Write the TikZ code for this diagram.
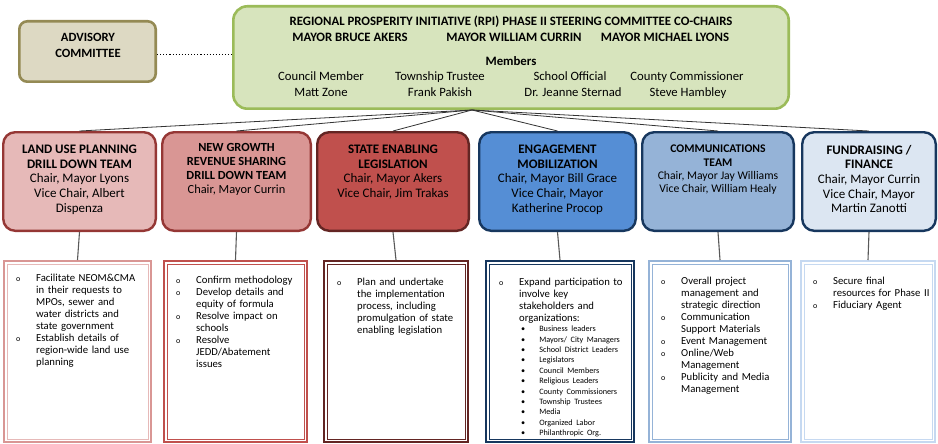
\documentclass[tikz,border=0pt]{standalone}
\usepackage{fontspec}
\setmainfont{Carlito}
\usepackage{enumitem}
\usetikzlibrary{arrows}

\definecolor{advfill}{HTML}{DDD9C3}
\definecolor{advline}{HTML}{948A54}
\definecolor{steerfill}{HTML}{D7E4BD}
\definecolor{steerline}{HTML}{9BBB59}
\definecolor{redA}{HTML}{E6B9B8}
\definecolor{redB}{HTML}{D99694}
\definecolor{redC}{HTML}{C0504D}
\definecolor{redD}{HTML}{953735}
\definecolor{redE}{HTML}{632523}
\definecolor{blueA}{HTML}{558ED5}
\definecolor{blueB}{HTML}{95B3D7}
\definecolor{blueC}{HTML}{DCE6F2}
\definecolor{blueD}{HTML}{17375E}
\definecolor{blueE}{HTML}{C6D9F1}

\setlist[itemize,1]{label={\fontsize{8}{8}\selectfont o},leftmargin=33pt,labelwidth=6pt,labelsep=14pt,align=left,nosep}
\setlist[itemize,2]{label=\textbullet,leftmargin=20pt,labelwidth=4pt,labelsep=14pt,align=left,nosep}

\begin{document}
\begin{tikzpicture}[x=1pt,y=-1pt]
	\tikzset{
	%Define style for the team boxes
	teambox/.style={
		rectangle,
		rounded corners=12pt,
		line width=2.4pt,
		minimum height=98.6pt,
		inner sep=0pt},
	teamtext/.style={
		anchor=north,
		align=center,
		inner sep=0pt,
		font=\fontsize{13}{14.6}\selectfont},
	%Define style for the task lists
	taskbox/.style={
		rectangle,
		line width=2.4pt,
		minimum height=180.6pt,
		inner sep=0pt},
	tasktext/.style={
		anchor=north west,
		inner sep=0pt,
		font=\fontsize{10.7}{12}\selectfont,
		align=left},
	% Define connector style
	link/.style={
		draw=black!80,
		line width=0.8pt}
}
\tikzstyle{member} = [anchor=base, inner sep=0pt, font=\fontsize{12.7}{14}\selectfont]

	\useasboundingbox (0,0) rectangle (938,444);

	%committees on top
	\node[rectangle, rounded corners=8pt, draw=advline, fill=advfill, line width=2.6pt, minimum width=136.4pt, minimum height=60.4pt] at (87.5,51.5) (adv) {};
	\node[anchor=center, align=center, inner sep=0pt, font=\fontsize{12.6}{16}\selectfont\bfseries] at (88,45) (advtxt) {ADVISORY\\COMMITTEE};
	\node[rectangle, rounded corners=14pt, draw=steerline, fill=steerfill, line width=2.6pt, minimum width=555.4pt, minimum height=102.4pt] at (511,57.5) (steer) {};

	\begin{scope}[every node/.style={member}]
	\node[font=\fontsize{12.8}{14}\selectfont\bfseries] at (511,26) (rpi) {REGIONAL PROSPERITY INITIATIVE (RPI) PHASE II STEERING COMMITTEE CO-CHAIRS};
	\node[font=\fontsize{12.8}{14}\selectfont\bfseries] at (350,42) (akers) {MAYOR BRUCE AKERS};
	\node[font=\fontsize{12.8}{14}\selectfont\bfseries] at (514,42) (currin) {MAYOR WILLIAM CURRIN};
	\node[font=\fontsize{12.8}{14}\selectfont\bfseries] at (665,42) (lyons) {MAYOR MICHAEL LYONS};
	\node[font=\fontsize{12.8}{14}\selectfont\bfseries] at (511,66) (members) {Members};
	%member columns
	\node at (321,81) (council) {Council Member};
	\node at (321,96) (zone) {Matt Zone};
	\node at (440,81) (township) {Township Trustee};
	\node at (440,96) (pakish) {Frank Pakish};
	\node at (570,81) (school) {School Official};
	\node at (573,96) (sternad) {Dr. Jeanne Sternad};
	\node at (687,81) (county) {County Commissioner};
	\node at (688,96) (hambley) {Steve Hambley};
	\end{scope}

	\draw[dotted, line width=1.1pt] ([yshift=-3pt]adv.east) -- ([yshift=-3pt]adv.east -| steer.west);

	%team boxes
	\node[teambox, draw=redD, fill=redA, minimum width=152.6pt] at (79.5,181.5) (t1) {};
	\node[teambox, draw=redD, fill=redB, minimum width=148.6pt] at (236.5,181.5) (t2) {};
	\node[teambox, draw=redE, fill=redC, minimum width=151.6pt] at (393,181.5) (t3) {};
	\node[teambox, draw=blueD, fill=blueA, minimum width=156.6pt] at (557.5,181.5) (t4) {};
	\node[teambox, draw=blueD, fill=blueB, minimum width=151.6pt] at (718,181.5) (t5) {};
	\node[teambox, draw=blueD, fill=blueC, minimum width=133.6pt] at (869,181.5) (t6) {};

	\node[teamtext] at (79.5,145) (t1txt) {\textbf{LAND USE PLANNING}\\\textbf{DRILL DOWN TEAM}\\Chair, Mayor Lyons\\Vice Chair, Albert\\Dispenza};
	\node[teamtext, font=\fontsize{12.4}{14}\selectfont] at (236.5,143.5) (t2txt) {\textbf{NEW GROWTH}\\\textbf{REVENUE SHARING}\\\textbf{DRILL DOWN TEAM}\\Chair, Mayor Currin};
	\node[teamtext] at (393,145) (t3txt) {\textbf{STATE ENABLING}\\\textbf{LEGISLATION}\\Chair, Mayor Akers\\Vice Chair, Jim Trakas};
	\node[teamtext] at (557.5,145) (t4txt) {\textbf{ENGAGEMENT}\\\textbf{MOBILIZATION}\\Chair, Mayor Bill Grace\\Vice Chair, Mayor\\Katherine Procop};
	\node[teamtext, font=\fontsize{11.7}{13.3}\selectfont] at (718,145) (t5txt) {\textbf{COMMUNICATIONS}\\\textbf{TEAM}\\Chair, Mayor Jay Williams\\Vice Chair, William Healy};
	\node[teamtext] at (869,145) (t6txt) {\textbf{FUNDRAISING /}\\\textbf{FINANCE}\\Chair, Mayor Currin\\Vice Chair, Mayor\\Martin Zanotti};

	%task boxes
	\node[taskbox, draw=redB, minimum width=146.6pt] at (77.5,351.5) (b1) {};
	\node[taskbox, draw=redC, minimum width=142.6pt] at (235.5,351.5) (b2) {};
	\node[taskbox, draw=redE, minimum width=143.6pt] at (396,351.5) (b3) {};
	\node[taskbox, draw=blueD, minimum width=147.6pt] at (560,351.5) (b4) {};
	\node[taskbox, draw=blueB, minimum width=141.6pt] at (720,351.5) (b5) {};
	\node[taskbox, draw=blueE, minimum width=133.6pt] at (868,351.5) (b6) {};
	\foreach \b/\c in {b1/redA,b2/redC,b3/redE,b4/blueD,b5/blueB,b6/blueE}
		\draw[\c, line width=0.8pt] ([shift={(4,4)}]\b.north west) rectangle ([shift={(-4,-4)}]\b.south east);

	\node[tasktext, text width=145pt] at (3,269) (b1txt) {\begin{itemize}
		\item Facilitate NEOM\&CMA\newline in their requests to\newline MPOs, sewer and\newline water districts and\newline state government
		\item Establish details of\newline region-wide land use\newline planning
		\end{itemize}};
	\node[tasktext, text width=141pt] at (163,271) (b2txt) {\begin{itemize}
		\item Confirm methodology
		\item Develop details and\newline equity of formula
		\item Resolve impact on\newline schools
		\item Resolve\newline JEDD/Abatement\newline issues
		\end{itemize}};
	\node[tasktext, text width=142pt] at (324,273) (b3txt) {\begin{itemize}
		\item Plan and undertake\newline the implementation\newline process, including\newline promulgation of state\newline enabling legislation
		\end{itemize}};
	\node[tasktext, text width=146pt] at (486,273) (b4txt) {\begin{itemize}
		\item Expand participation to\newline involve key\newline stakeholders and\newline organizations:\par
		{\fontsize{8.2}{10.4}\selectfont
		\begin{itemize}
			\item Business leaders
			\item Mayors/ City Managers
			\item School District Leaders
			\item Legislators
			\item Council Members
			\item Religious Leaders
			\item County Commissioners
			\item Township Trustees
			\item Media
			\item Organized Labor
			\item Philanthropic Org.
		\end{itemize}}
		\end{itemize}};
	\node[tasktext, text width=142pt] at (648,272) (b5txt) {\begin{itemize}
		\item Overall project\newline management and\newline strategic direction
		\item Communication\newline Support Materials
		\item Event Management
		\item Online/Web\newline Management
		\item Publicity and Media\newline Management
		\end{itemize}};
	\node[tasktext, text width=136pt] at (800,272) (b6txt) {\begin{itemize}
		\item Secure final\newline resources for Phase II
		\item Fiduciary Agent
		\end{itemize}};

	%connectors
	\coordinate (hub) at (472,110);
	\foreach \t in {t1,t2,t3,t4,t5,t6}
		\draw[link] (hub) -- (\t.north);
	\foreach \i in {1,...,6}
		\draw[link, draw=black!65, line width=1.1pt] (t\i.south) -- (b\i.north);

\end{tikzpicture}
\end{document}
